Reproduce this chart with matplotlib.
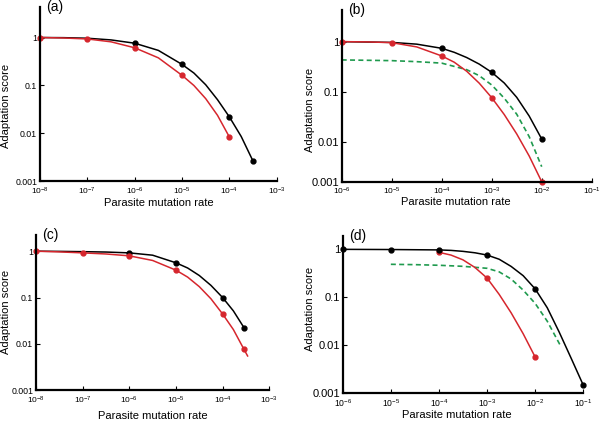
import numpy as np
import matplotlib
matplotlib.use('Agg')
import matplotlib.pyplot as plt

plt.rcParams['font.family'] = ['Liberation Sans', 'DejaVu Sans']
plt.rcParams['mathtext.default'] = 'regular'

RED = '#d6262d'
GREEN = '#1f9a4e'

## panel (a)
a_black_x = [1e-8, 3.16e-8, 1e-7, 3.16e-7, 1e-6, 3.16e-6, 1e-5, 1.78e-5, 3.16e-5, 5.62e-5, 1e-4, 1.78e-4, 3.16e-4]
a_black_y = [1.0, 0.993, 0.966, 0.891, 0.760, 0.538, 0.274, 0.181, 0.103, 0.0501, 0.0219, 0.00851, 0.00261]
a_black_mx = [1e-6, 1e-5, 1e-4, 3.16e-4]
a_black_my = [0.76, 0.274, 0.0219, 0.00261]
a_red_x = [1e-8, 3.16e-8, 1e-7, 3.16e-7, 1e-6, 3.16e-6, 1e-5, 1.78e-5, 3.16e-5, 5.62e-5, 1e-4]
a_red_y = [1.0, 0.977, 0.933, 0.813, 0.610, 0.376, 0.162, 0.0994, 0.0528, 0.0236, 0.00832]
a_red_mx = [1e-8, 1e-7, 1e-6, 1e-5, 1e-4]
a_red_my = [1.0, 0.933, 0.61, 0.162, 0.00832]

## panel (b)
b_black_x = [1e-6, 1e-5, 3.16e-5, 1e-4, 1.78e-4, 3.16e-4, 5.62e-4, 1e-3, 1.78e-3, 3.16e-3, 5.62e-3, 1e-2]
b_black_y = [1.0, 0.966, 0.891, 0.736, 0.612, 0.481, 0.356, 0.244, 0.149, 0.0771, 0.0325, 0.0113]
b_black_mx = [1e-4, 1e-3, 1e-2]
b_black_my = [0.736, 0.244, 0.0113]
b_red_x = [1e-6, 3.16e-6, 1e-5, 3.16e-5, 1e-4, 1.78e-4, 3.16e-4, 5.62e-4, 1e-3, 1.78e-3, 3.16e-3, 5.62e-3, 1e-2]
b_red_y = [1.0, 0.989, 0.955, 0.785, 0.518, 0.388, 0.256, 0.148, 0.0759, 0.0349, 0.0143, 0.00516, 0.00158]
b_red_mx = [1e-6, 1e-5, 1e-4, 1e-3, 1e-2]
b_red_my = [1.0, 0.955, 0.518, 0.0759, 0.00158]
b_green_x = [1e-6, 1e-5, 3.16e-5, 1e-4, 3.16e-4, 5.62e-4, 1e-3, 1.78e-3, 3.16e-3, 5.62e-3, 1e-2]
b_green_y = [0.431, 0.417, 0.398, 0.372, 0.275, 0.209, 0.136, 0.0741, 0.0355, 0.0126, 0.00316]

## panel (c)
c_black_x = [1e-8, 3.16e-8, 1e-7, 3.16e-7, 1e-6, 3.16e-6, 1e-5, 1.78e-5, 3.16e-5, 5.62e-5, 1e-4, 1.7e-4, 2.88e-4]
c_black_y = [1.0, 0.991, 0.977, 0.959, 0.920, 0.820, 0.562, 0.434, 0.299, 0.183, 0.1, 0.0516, 0.0223]
c_black_mx = [1e-6, 1e-5, 1e-4, 2.88e-4]
c_black_my = [0.92, 0.562, 0.1, 0.0223]
c_red_x = [1e-8, 3.16e-8, 1e-7, 3.16e-7, 1e-6, 3.16e-6, 1e-5, 1.78e-5, 3.16e-5, 5.62e-5, 1e-4, 1.7e-4, 2.88e-4, 3.43e-4]
c_red_y = [1.0, 0.966, 0.920, 0.871, 0.794, 0.631, 0.390, 0.276, 0.172, 0.0941, 0.0442, 0.0204, 0.00759, 0.0055]
c_red_mx = [1e-8, 1e-7, 1e-6, 1e-5, 1e-4, 2.88e-4]
c_red_my = [1.0, 0.92, 0.794, 0.39, 0.0442, 0.00759]

## panel (d)
d_black_x = [1e-6, 1e-5, 1e-4, 1.78e-4, 3.16e-4, 5.62e-4, 1e-3, 1.78e-3, 3.16e-3, 5.62e-3, 1e-2, 1.78e-2, 3.16e-2, 5.62e-2, 1e-1]
d_black_y = [1.0, 0.991, 0.973, 0.951, 0.908, 0.847, 0.760, 0.622, 0.440, 0.282, 0.149, 0.0603, 0.0186, 0.00525, 0.00145]
d_black_mx = [1e-6, 1e-5, 1e-4, 1e-3, 1e-2, 1e-1]
d_black_my = [1.0, 0.991, 0.973, 0.76, 0.149, 0.00145]
d_red_x = [1e-4, 1.78e-4, 3.16e-4, 5.62e-4, 1e-3, 1.78e-3, 3.16e-3, 5.62e-3, 1e-2]
d_red_y = [0.866, 0.759, 0.603, 0.417, 0.251, 0.115, 0.0473, 0.0173, 0.00562]
d_red_mx = [1e-4, 1e-3, 1e-2]
d_red_my = [0.866, 0.251, 0.00562]
d_green_x = [1e-5, 3.16e-5, 1e-4, 3.16e-4, 1e-3, 1.78e-3, 3.16e-3, 5.62e-3, 1e-2, 1.78e-2, 3.3e-2]
d_green_y = [0.487, 0.479, 0.465, 0.442, 0.402, 0.339, 0.240, 0.141, 0.0741, 0.0316, 0.01]

ylabels = ['0.001', '0.01', '0.1', '1']

fig = plt.figure(figsize=(6, 4.24), dpi=100)


def setup(ax, xexp, ylim, yticks, tag, xfs, yfs, ylab_pos, xlab_pos):
    ax.set_xscale('log')
    ax.set_yscale('log')
    ax.set_xlim(10.0 ** xexp[0], 10.0 ** xexp[-1])
    ax.set_ylim(*ylim)
    for s in ['top', 'right']:
        ax.spines[s].set_visible(False)
    for s in ['left', 'bottom']:
        ax.spines[s].set_linewidth(1.6)
    ax.set_xticks([10.0 ** e for e in xexp])
    ax.set_xticklabels(['$10^{%d}$' % e for e in xexp])
    ax.set_yticks(yticks)
    ax.set_yticklabels(ylabels)
    ax.minorticks_off()
    ax.tick_params(direction='in', length=3, width=0.8, pad=2)
    ax.tick_params(axis='x', labelsize=xfs, pad=3)
    ax.tick_params(axis='y', labelsize=yfs)
    ax.set_xlabel('Parasite mutation rate', fontsize=8)
    ax.set_ylabel('Adaptation score', fontsize=8)
    ax.yaxis.set_label_coords(*ylab_pos)
    ax.xaxis.set_label_coords(*xlab_pos)
    ax.text(0.025, 1.0, tag, transform=ax.transAxes, fontsize=10, va='center', ha='left')


def curve(ax, x, y, mx, my, color):
    ax.plot(x, y, color=color, lw=1.1, clip_on=False)
    ax.plot(mx, my, 'o', color=color, ms=3.5, clip_on=False)


ax = fig.add_axes([0.0667, 0.573, 0.3945, 0.410])
setup(ax, list(range(-8, -2)), (1e-3, 4.3), [1e-3, 1e-2, 0.1, 1], '(a)', 6, 6.3,
      (-0.122, 0.43), (0.5, -0.095))
curve(ax, a_black_x, a_black_y, a_black_mx, a_black_my, 'black')
curve(ax, a_red_x, a_red_y, a_red_mx, a_red_my, RED)

ax = fig.add_axes([0.5695, 0.5715, 0.4167, 0.405])
setup(ax, list(range(-6, 0)), (10 ** -2.8, 4.3), [10 ** -2.8, 1e-2, 0.1, 1], '(b)', 6, 8,
      (-0.107, 0.42), (0.457, -0.09))
ax.plot(b_green_x, b_green_y, color=GREEN, lw=1.2, ls=(0, (3, 2)))
curve(ax, b_black_x, b_black_y, b_black_mx, b_black_my, 'black')
curve(ax, b_red_x, b_red_y, b_red_mx, b_red_my, RED)

ax = fig.add_axes([0.06, 0.0795, 0.3888, 0.3655])
setup(ax, list(range(-8, -2)), (1e-3, 2.2), [1e-3, 1e-2, 0.1, 1], '(c)', 6, 6.3,
      (-0.108, 0.505), (0.5, -0.135))
curve(ax, c_black_x, c_black_y, c_black_mx, c_black_my, 'black')
curve(ax, c_red_x, c_red_y, c_red_mx, c_red_my, RED)

ax = fig.add_axes([0.5712, 0.0731, 0.401, 0.3703])
setup(ax, list(range(-6, 0)), (1e-3, 1.9), [1e-3, 1e-2, 0.1, 1], '(d)', 6.2, 8,
      (-0.115, 0.535), (0.475, -0.11))
ax.plot(d_green_x, d_green_y, color=GREEN, lw=1.2, ls=(0, (3, 2)))
curve(ax, d_red_x, d_red_y, d_red_mx, d_red_my, RED)
curve(ax, d_black_x, d_black_y, d_black_mx, d_black_my, 'black')

fig.savefig('out.png', dpi=100)
